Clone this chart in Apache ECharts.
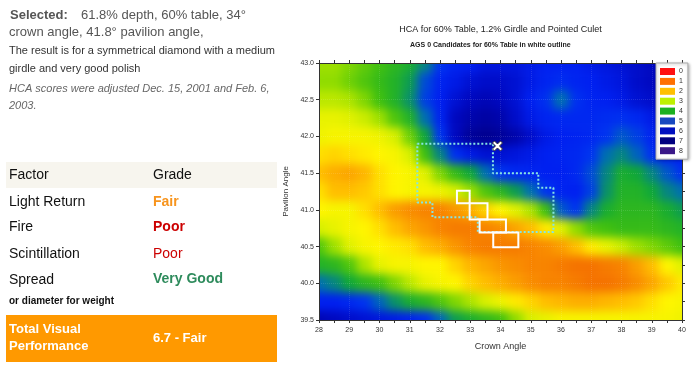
<!DOCTYPE html>
<html><head><meta charset="utf-8">
<script src="https://cdn.jsdelivr.net/npm/echarts@6/dist/echarts.min.js"></script>
<style>
html,body{margin:0;padding:0;background:#fff;}
#page{position:relative;width:697px;height:367px;overflow:hidden;background:#fff;}
#heatClip{position:absolute;left:319px;top:63px;width:363px;height:257px;overflow:hidden;}
#heat{position:absolute;left:-40px;top:-40px;width:443px;height:337px;filter:blur(5px);}
#main{position:absolute;left:0;top:0;width:697px;height:367px;}
</style></head>
<body><div id="page"><div id="heatClip"><div id="heat"></div></div><div id="main"></div></div>
<script>
// ---------- data ----------
const crownAngles = [28,28.5,29,29.5,30,30.5,31,31.5,32,32.5,33,33.5,34,34.5,35,35.5,36,36.5,37,37.5,38,38.5,39,39.5,40];
const pavilionAngles = [43,42.75,42.5,42.25,42,41.75,41.5,41.25,41,40.75,40.5,40.25,40,39.75,39.5];
const hca4300 = [3.4,3.4,3.6,3.8,4.0,4.2,4.4,4.8,5.5,5.9,6.0,6.2,6.2,6.2,6.1,6.0,6.0,6.0,6.1,6.2,6.3,6.4,6.5,6.6,6.7];
const hca4275 = [3.5,3.5,3.7,3.9,4.1,4.3,4.6,5.3,5.9,6.1,6.3,6.4,6.4,6.3,6.1,5.9,5.7,5.9,6.0,6.1,6.2,6.4,6.5,6.6,6.7];
const hca4250 = [3.2,3.2,3.3,3.6,4.0,4.3,4.7,5.4,6.0,6.3,6.5,6.6,6.5,6.3,6.0,5.6,5.0,5.6,5.9,6.0,6.1,6.3,6.4,6.5,6.6];
const hca4225 = [2.8,2.8,2.9,3.1,3.4,3.9,4.3,5.0,5.9,6.5,6.7,6.8,6.7,6.4,6.1,5.9,5.8,5.8,5.8,5.7,5.6,5.8,6.1,6.4,6.5];
const hca4200 = [2.7,2.6,2.6,2.6,2.7,3.0,3.7,4.5,5.5,6.5,6.9,7.0,6.9,6.7,6.4,6.1,6.0,5.9,5.8,5.5,5.2,5.4,5.9,6.1,6.2];
const hca4175 = [2.3,2.2,2.3,2.4,2.5,2.6,3.0,4.0,4.8,5.6,6.1,6.3,6.3,6.2,6.1,6.0,5.9,5.8,5.5,5.0,4.8,5.1,5.6,5.9,6.0];
const hca4150 = [2.0,1.8,1.7,1.9,2.3,2.5,2.6,2.9,3.6,4.1,4.5,5.0,5.5,5.8,5.9,6.0,6.0,5.8,5.3,4.8,4.4,4.5,4.8,5.2,5.6];
const hca4125 = [2.3,2.0,2.0,2.1,2.3,2.5,2.6,2.6,2.7,3.0,3.4,3.9,4.2,4.6,5.0,5.5,5.9,6.0,5.4,4.7,4.3,4.3,4.5,4.8,5.0];
const hca4100 = [2.5,2.6,2.6,2.3,2.0,1.6,1.4,1.3,1.3,1.5,1.8,2.2,2.5,2.9,3.3,4.0,5.2,5.5,4.8,4.4,4.2,4.2,4.2,4.4,4.6];
const hca4075 = [3.0,2.8,2.6,2.5,2.3,2.0,1.7,1.5,1.3,1.2,1.2,1.3,1.4,1.7,2.0,2.4,2.9,3.5,3.9,4.0,4.1,4.1,4.1,4.2,4.3];
const hca4050 = [3.9,3.4,2.9,2.6,2.5,2.4,2.3,2.0,1.8,1.5,1.3,1.2,1.2,1.2,1.3,1.4,1.6,2.0,2.4,2.8,3.1,3.4,3.6,3.8,4.0];
const hca4025 = [4.3,4.2,3.9,3.3,2.8,2.6,2.6,2.5,2.5,2.2,1.9,1.7,1.5,1.4,1.3,1.3,1.2,1.1,1.1,1.2,1.3,1.6,2.0,2.5,2.9];
const hca4000 = [5.0,4.8,4.5,4.2,4.0,3.6,3.2,2.8,2.6,2.5,2.2,2.0,1.8,1.6,1.4,1.3,1.3,1.2,1.1,1.1,1.2,1.4,1.7,2.1,2.4];
const hca3975 = [6.0,6.0,5.8,5.5,5.1,4.7,4.4,4.2,3.9,3.6,3.3,3.0,2.7,2.4,2.2,2.0,1.9,1.8,1.8,1.9,2.0,2.1,2.3,2.5,2.6];
const hca3950 = [6.6,6.5,6.4,6.3,6.2,6.1,6.0,5.7,5.1,4.6,4.4,4.2,4.0,3.5,3.0,2.8,2.6,2.6,2.6,2.6,2.6,2.6,2.6,2.6,2.7];
const hcaRows = [hca4300,hca4275,hca4250,hca4225,hca4200,hca4175,hca4150,hca4125,hca4100,hca4075,hca4050,hca4025,hca4000,hca3975,hca3950];

const agsOutline = [[31.25,41.9],[33.75,41.9],[33.75,41.5],[35.25,41.5],[35.25,41.3],[35.75,41.3],[35.75,40.7],[33.25,40.7],[33.25,40.9],[31.75,40.9],[31.75,41.1],[31.25,41.1],[31.25,41.9]];
const whiteCells = [[32.56,41.09,32.98,41.26],[32.98,40.87,33.57,41.09],[33.31,40.69,34.18,40.87],[33.76,40.49,34.59,40.69]];
const selectedPoint = [33.9,41.87];
const legendGrades = ['0','1','2','3','4','5','6','7','8'];

const tableFactors = ['Light Return','Fire','Scintillation','Spread'];
const tableGrades = ['Fair','Poor','Poor','Very Good'];

// ---------- styles ----------
const heatPalette = ['#ff0000','#fa3800','#f46a00','#fa9600','#ffbe00','#fff500','#d8f000','#90dc00','#40c010','#10a838','#0070b0','#0034f0','#0020f0','#0008c0','#000090','#200088','#400080'];
const legendColors = ['#ff1010','#ff7000','#ffc000','#bff000','#1cb020','#1848c0','#0010c0','#000080','#3a1888'];
const gradeColors = ['#f7941d','#cc0000','#cc0000','#2e8b5c'];
const gradeBold = [true,true,false,true];
const FF = '"Liberation Sans", Arial, sans-serif';

// ---------- heat layer ----------
const heatData = [];
hcaRows.forEach((row, i) => row.forEach((v, j) => heatData.push([crownAngles[j], pavilionAngles[i], v])));
const cMin = crownAngles[0], cMax = crownAngles[crownAngles.length-1];
const pMin = pavilionAngles[pavilionAngles.length-1], pMax = pavilionAngles[0];
const hx = (crownAngles[1]-crownAngles[0])/2, hy = (pavilionAngles[0]-pavilionAngles[1])/2;

function renderHeat(params, api) {
  const c = api.value(0), p = api.value(1);
  const x0 = c <= cMin ? c - 1 : c - hx;
  const x1 = c >= cMax ? c + 1 : c + hx;
  const y0 = p <= pMin ? p - 1 : p - hy;
  const y1 = p >= pMax ? p + 1 : p + hy;
  const a = api.coord([x0, y1]), b = api.coord([x1, y0]);
  return {type:'rect', shape:{x:a[0], y:a[1], width:b[0]-a[0]+0.6, height:b[1]-a[1]+0.6}, style:{fill: api.visual('color')}};
}

const heat = echarts.init(document.getElementById('heat'));
heat.setOption({
  animation:false,
  grid:{left:40, top:40, width:363, height:257},
  xAxis:{type:'value', min:28, max:40, show:false},
  yAxis:{type:'value', min:39.5, max:43, show:false},
  visualMap:{show:false, type:'continuous', min:0, max:8, dimension:2, inRange:{color: heatPalette}},
  series:[{type:'custom', renderItem: renderHeat, data: heatData, clip:false, silent:true}]
});

// ---------- main layer ----------
function renderCell(params, api) {
  const a = api.coord([api.value(0), api.value(3)]);
  const b = api.coord([api.value(2), api.value(1)]);
  return {type:'rect', shape:{x:a[0], y:a[1], width:b[0]-a[0], height:b[1]-a[1]}, style:{fill:'none', stroke:'#ffffff', lineWidth:2}};
}

const axisLineStyle = {color:'#333', width:1};
const graphics = [];
function txt(x, y, text, font, fill, align) {
  graphics.push({type:'text', x:x, y:y, silent:true, style:{text:text, font:font, fill:fill, align:align||'left', verticalAlign:'middle'}});
}
// left panel
txt(10, 15.5, 'Selected:', 'bold 13px ' + FF, '#555');
txt(81, 15.5, '61.8% depth, 60% table, 34°', '13px ' + FF, '#555');
txt(9, 32, 'crown angle, 41.8° pavilion angle,', '13px ' + FF, '#555');
txt(9, 51, 'The result is for a symmetrical diamond with a medium', '11px ' + FF, '#333');
txt(9, 69, 'girdle and very good polish', '11px ' + FF, '#333');
txt(9, 88.8, 'HCA scores were adjusted Dec. 15, 2001 and Feb. 6,', 'italic 11px ' + FF, '#666');
txt(9, 106, '2003.', 'italic 11px ' + FF, '#666');
graphics.push({type:'rect', silent:true, shape:{x:6, y:162, width:271, height:26}, style:{fill:'#f7f5ee'}});
graphics.push({type:'rect', silent:true, shape:{x:6, y:315, width:271, height:47}, style:{fill:'#ff9900'}});
txt(9, 175.4, 'Factor', '14px ' + FF, '#111');
txt(153, 175.4, 'Grade', '14px ' + FF, '#111');
const rowY = [201.8, 227.4, 254.4, 280];
tableFactors.forEach((f, i) => {
  txt(9, rowY[i], f, '14px ' + FF, '#111');
  txt(153, rowY[i] - (i === 3 ? 1 : 0), tableGrades[i], (gradeBold[i] ? 'bold ' : '') + '14px ' + FF, gradeColors[i]);
});
txt(9, 300.8, 'or diameter for weight', 'bold 10px ' + FF, '#111');
txt(9, 329.5, 'Total Visual', 'bold 13px ' + FF, '#fff');
txt(9, 346.5, 'Performance', 'bold 13px ' + FF, '#fff');
txt(153, 338.8, '6.7 - Fair', 'bold 13px ' + FF, '#fff');
// chart titles
txt(500.5, 30, 'HCA for 60% Table, 1.2% Girdle and Pointed Culet', '9px ' + FF, '#222', 'center');
txt(490.3, 45, 'AGS 0 Candidates for 60% Table in white outline', 'bold 7px ' + FF, '#222', 'center');

const legendSeries = legendGrades.map((g, i) => ({name:g, type:'scatter', data:[], itemStyle:{color:legendColors[i], opacity:1}}));

const main = echarts.init(document.getElementById('main'));
main.setOption({
  animation:false,
  textStyle:{fontFamily:FF},
  grid:{left:319, top:63, width:363, height:257},
  xAxis:[
    {type:'value', min:28, max:40, interval:1, position:'bottom',
     axisLine:{show:true, onZero:false, lineStyle:axisLineStyle},
     axisTick:{show:true, length:3, lineStyle:axisLineStyle},
     minorTick:{show:true, splitNumber:2, length:3, lineStyle:axisLineStyle},
     axisLabel:{fontSize:7, color:'#333', margin:7},
     splitLine:{show:true, lineStyle:{color:'rgba(255,255,255,0.12)', type:'dotted'}},
     name:'Crown Angle', nameLocation:'middle', nameGap:22, nameTextStyle:{fontSize:9, color:'#333'}},
    {type:'value', min:28, max:40, interval:0.5, position:'top',
     axisLine:{show:true, onZero:false, lineStyle:axisLineStyle},
     axisTick:{show:true, length:3, lineStyle:axisLineStyle},
     axisLabel:{show:false}, splitLine:{show:false}}
  ],
  yAxis:[
    {type:'value', min:39.5, max:43, interval:0.5, position:'left',
     axisLine:{show:true, onZero:false, lineStyle:axisLineStyle},
     axisTick:{show:true, length:3, lineStyle:axisLineStyle},
     axisLabel:{fontSize:7, color:'#333', margin:5, formatter:v => v.toFixed(1)},
     splitLine:{show:true, lineStyle:{color:'rgba(255,255,255,0.12)', type:'dotted'}},
     name:'Pavilion Angle', nameLocation:'middle', nameRotate:90, nameGap:21, nameTextStyle:{fontSize:8, color:'#333'}},
    {type:'value', min:39.5, max:43, interval:0.25, position:'right',
     axisLine:{show:true, onZero:false, lineStyle:axisLineStyle},
     axisTick:{show:true, length:3, lineStyle:axisLineStyle},
     axisLabel:{show:false}, splitLine:{show:false}}
  ],
  legend:{show:true, data:legendGrades, orient:'vertical', left:656, top:63, itemWidth:15, itemHeight:7, itemGap:2.9,
    icon:'rect', selectedMode:false, padding:[5,5,5,4], backgroundColor:'#fff', borderColor:'#aaa', borderWidth:1,
    shadowBlur:3, shadowColor:'rgba(0,0,0,0.3)', shadowOffsetX:1, shadowOffsetY:1,
    itemStyle:{borderWidth:0, opacity:1}, textStyle:{fontSize:7, color:'#333', padding:[0,0,0,-1]}},
  graphic:graphics,
  series:[
    {type:'line', name:'AGS 0 outline', data:agsOutline, symbol:'none', silent:true, z:5,
     lineStyle:{color:'#86e4e4', width:2, type:[2,2]}},
    {type:'custom', name:'white outline', renderItem:renderCell, data:whiteCells, silent:true, z:6},
    {type:'scatter', name:'selected', data:[selectedPoint], z:7, silent:true,
     symbol:'path://M2,0 L5,3 L8,0 L10,2 L7,5 L10,8 L8,10 L5,7 L2,10 L0,8 L3,5 L0,2 Z', symbolSize:10,
     itemStyle:{color:'#fff', borderColor:'#333', borderWidth:1, opacity:1}}
  ].concat(legendSeries)
});
</script></body></html>
